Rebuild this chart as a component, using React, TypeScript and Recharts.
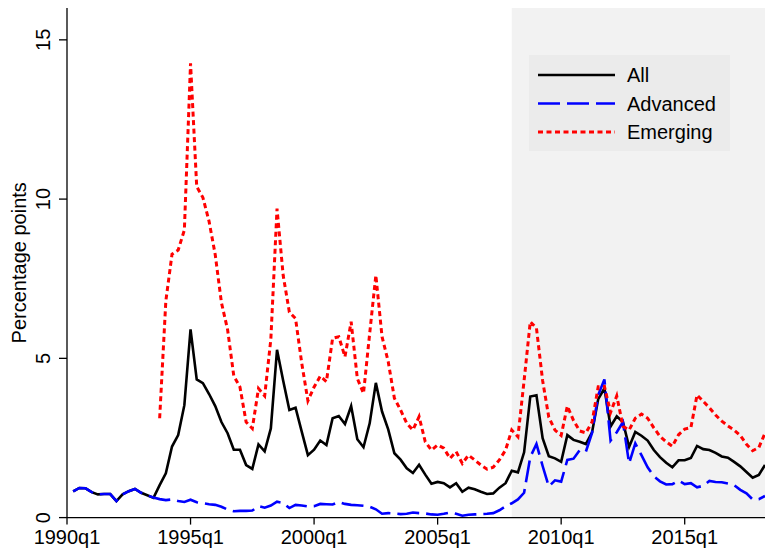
import React from "react";
import { Legend, Line, LineChart, ReferenceArea, XAxis, YAxis } from "recharts";

const firstYear = 1990;
const xTickLabels = ["1990q1", "1995q1", "2000q1", "2005q1", "2010q1", "2015q1"];
const yTicks = [0, 5, 10, 15];
const shadeFrom = "2008q1";

// quarterly values, 1990q1 .. 2018q2 (percentage points)
const allEconomies = [
	null, 0.82, 0.93, 0.92, 0.8, 0.73, 0.74, 0.74, 0.52, 0.73, 0.83, 0.9, 0.78, 0.7,
	0.62, 1.02, 1.39, 2.23, 2.59, 3.53, 5.91, 4.34, 4.22, 3.88, 3.5, 3.0, 2.65, 2.13,
	2.13, 1.65, 1.53, 2.3, 2.08, 2.8, 5.27, 4.3, 3.38, 3.45, 2.7, 1.96, 2.13, 2.42,
	2.28, 3.12, 3.19, 2.94, 3.5, 2.46, 2.21, 2.96, 4.23, 3.33, 2.77, 2.02, 1.82, 1.55,
	1.4, 1.66, 1.35, 1.06, 1.12, 1.08, 0.95, 1.08, 0.81, 0.94, 0.89, 0.81, 0.74, 0.76,
	0.94, 1.08, 1.47, 1.42, 2.05, 3.8, 3.84, 2.49, 1.93, 1.86, 1.75, 2.59, 2.44, 2.38,
	2.31, 2.68, 3.72, 4.06, 2.86, 3.18, 3.0, 2.22, 2.69, 2.57, 2.42, 2.12, 1.9, 1.72,
	1.58, 1.8, 1.8, 1.87, 2.25, 2.15, 2.12, 2.03, 1.92, 1.88, 1.75, 1.61, 1.43, 1.25,
	1.34, 1.65,
];

const advanced = [
	null, 0.82, 0.93, 0.92, 0.8, 0.73, 0.74, 0.74, 0.52, 0.73, 0.83, 0.9, 0.78, 0.7,
	0.63, 0.58, 0.55, 0.57, 0.52, 0.49, 0.56, 0.48, 0.45, 0.42, 0.4, 0.34, 0.25, 0.2,
	0.21, 0.21, 0.22, 0.36, 0.31, 0.38, 0.5, 0.46, 0.3, 0.4, 0.38, 0.35, 0.36, 0.43,
	0.42, 0.41, 0.49, 0.43, 0.4, 0.39, 0.37, 0.34, 0.26, 0.12, 0.14, 0.13, 0.11, 0.12,
	0.16, 0.14, 0.13, 0.1, 0.09, 0.12, 0.16, 0.12, 0.06, 0.09, 0.1, 0.11, 0.12, 0.14,
	0.23, 0.35, 0.45, 0.57, 0.78, 1.9, 2.31, 1.62, 0.98, 1.17, 1.13, 1.81, 1.85, 2.12,
	2.07, 2.66, 3.85, 4.34, 2.42, 2.68, 3.0, 1.7, 2.33, 1.96, 1.58, 1.3, 1.14, 1.04,
	1.05, 1.16, 1.05, 1.08, 0.95, 1.0, 1.15, 1.12, 1.11, 1.07, 1.02, 0.87, 0.76, 0.57,
	0.58, 0.68,
];

const emerging = [
	null, null, null, null, null, null, null, null, null, null, null, null, null, null,
	null, 3.12, 6.8, 8.27, 8.4, 9.03, 14.26, 10.39, 10.05, 9.3, 8.25, 6.75, 5.9, 4.45,
	4.1, 3.0, 2.8, 4.05, 3.82, 5.6, 9.7, 7.6, 6.45, 6.25, 4.85, 3.67, 4.1, 4.44,
	4.27, 5.63, 5.68, 5.05, 6.15, 4.37, 3.9, 5.78, 7.61, 5.68, 4.9, 3.75, 3.38, 2.96,
	2.75, 3.17, 2.38, 2.12, 2.28, 2.18, 1.86, 2.07, 1.7, 1.96, 1.81, 1.65, 1.52, 1.58,
	1.81, 2.12, 2.75, 2.54, 4.3, 6.15, 5.95, 4.3, 3.15, 2.75, 2.58, 3.5, 3.05, 2.72,
	2.66, 3.0, 4.11, 4.12, 3.3, 3.82, 2.87, 2.75, 3.12, 3.25, 3.12, 2.82, 2.55, 2.38,
	2.24, 2.6, 2.78, 2.82, 3.85, 3.65, 3.45, 3.22, 3.03, 2.88, 2.75, 2.58, 2.3, 2.1,
	2.2, 2.65,
];

const quarters = allEconomies.map((_, i) => `${firstYear + Math.floor(i / 4)}q${(i % 4) + 1}`);

const data = quarters.map((q, i) => ({
	t: i,
	q,
	all: allEconomies[i],
	advanced: advanced[i],
	emerging: emerging[i],
}));

const lastIndex = quarters.length - 1;
const xTicks = xTickLabels.map((l) => quarters.indexOf(l));

const font = "'Liberation Sans', Arial, Helvetica, sans-serif";

const series = [
	{ key: "all", name: "All", color: "#000000", dash: undefined, width: 2.6 },
	{ key: "advanced", name: "Advanced", color: "#0000ff", dash: "22 7", width: 2.6 },
	{ key: "emerging", name: "Emerging", color: "#ff0000", dash: "5 3.5", width: 3 },
];

const YTick = ({ x, y, payload }: any) => (
	<text
		x={x - 7}
		y={y}
		transform={`rotate(-90 ${x - 7} ${y})`}
		textAnchor="middle"
		fontSize={20}
		fontFamily={font}
		fill="#000"
	>
		{payload.value}
	</text>
);

const XTick = ({ x, y, payload }: any) => (
	<text x={x} y={y + 17} textAnchor="middle" fontSize={20} fontFamily={font} fill="#000">
		{quarters[payload.value]}
	</text>
);

const YTitle = ({ viewBox }: any) => {
	const cy = viewBox ? viewBox.y + viewBox.height / 2 : 263;
	return (
		<text
			x={26}
			y={cy}
			transform={`rotate(-90 26 ${cy})`}
			textAnchor="middle"
			fontSize={20}
			fontFamily={font}
			fill="#000"
		>
			Percentage points
		</text>
	);
};

const LegendBox = () => (
	<div style={{ background: "#ebebeb", width: 201, height: 96 }}>
		<svg width={201} height={96}>
			{series.map((s, i) => {
				const cy = 20 + i * 28.5;
				return (
					<g key={s.key}>
						<line
							x1={9}
							x2={86}
							y1={cy}
							y2={cy}
							stroke={s.color}
							strokeWidth={s.width}
							strokeDasharray={s.dash}
						/>
						<text x={98} y={cy} dominantBaseline="central" fontSize={20} fontFamily={font} fill="#000">
							{s.name}
						</text>
					</g>
				);
			})}
		</svg>
	</div>
);

export default function App() {
	return (
		<div>
			<style>{"body{margin:0}"}</style>
			<LineChart width={765} height={548} data={data} margin={{ top: 8, right: 0, bottom: 0, left: 0 }}>
				<ReferenceArea
					x1={quarters.indexOf(shadeFrom)}
					x2={lastIndex}
					y1={0}
					y2={16}
					fill="#f2f2f2"
					fillOpacity={1}
					stroke="none"
				/>
				<XAxis
					dataKey="t"
					type="number"
					domain={[0, lastIndex]}
					ticks={xTicks}
					tick={<XTick />}
					tickSize={7}
					height={30.4}
					stroke="#000"
					axisLine={{ stroke: "#000", strokeWidth: 1.3 }}
					tickLine={{ stroke: "#000", strokeWidth: 1.3 }}
				/>
				<YAxis
					type="number"
					domain={[0, 16]}
					ticks={yTicks}
					tick={<YTick />}
					tickSize={8}
					width={67}
					stroke="#000"
					axisLine={{ stroke: "#000", strokeWidth: 1.3 }}
					tickLine={{ stroke: "#000", strokeWidth: 1.3 }}
					label={<YTitle />}
				/>
				{series.map((s) => (
					<Line
						key={s.key}
						dataKey={s.key}
						name={s.name}
						type="linear"
						stroke={s.color}
						strokeWidth={s.width}
						strokeDasharray={s.dash}
						dot={false}
						activeDot={false}
						isAnimationActive={false}
					/>
				))}
				<Legend
					layout="vertical"
					align="center"
					verticalAlign="middle"
					content={<LegendBox />}
					wrapperStyle={{ left: 529, top: 55, width: 201, height: 96 }}
				/>
			</LineChart>
		</div>
	);
}
